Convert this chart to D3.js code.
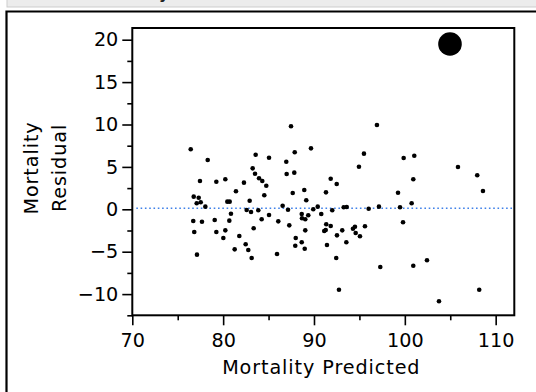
<!DOCTYPE html>
<html><head><meta charset="utf-8">
<script src="https://cdn.jsdelivr.net/npm/d3@7"></script>
<style>body{margin:0;background:#fff;} svg{display:block;font-family:"DejaVu Sans",sans-serif;}</style>
</head><body><svg id="c" width="536" height="392"></svg>
<script>
const predicted = [76.43,78.30,87.47,83.58,85.05,87.88,89.67,86.95,83.25,96.93,95.50,99.87,101.04,94.95,105.85,86.99,87.83,77.45,79.25,80.24,82.29,83.51,83.95,84.31,84.75,87.66,88.93,81.41,84.53,76.76,77.31,82.92,77.53,77.09,78.04,80.46,80.72,89.15,86.55,87.14,82.59,83.07,83.87,80.86,89.92,90.41,88.65,89.37,88.68,89.04,85.05,76.71,77.67,79.07,80.68,84.24,86.07,87.28,76.82,79.25,80.24,83.36,89.04,80.02,81.78,87.99,88.65,87.94,88.98,82.48,82.77,81.27,77.12,83.14,85.93,107.97,91.84,92.50,100.93,108.60,91.32,99.25,100.75,93.27,93.60,96.02,97.15,99.47,92.01,90.80,91.35,91.84,99.80,95.61,94.51,94.29,91.29,91.13,93.11,94.59,95.06,92.53,93.56,91.43,92.45,102.44,97.30,100.93,92.75,108.19,103.76];
const residual = [7.08,5.81,9.79,6.44,6.08,6.72,7.19,5.61,4.83,9.94,6.56,6.05,6.32,5.02,4.99,4.16,4.32,3.34,3.25,3.54,3.14,4.20,3.66,3.34,2.78,1.92,2.28,2.12,1.65,1.49,1.37,1.01,0.83,0.71,0.31,0.90,0.90,1.06,0.42,-0.05,-0.08,-0.32,-0.12,-0.52,0.00,0.31,-0.55,-0.71,-1.06,-1.18,-0.67,-1.38,-1.46,-1.26,-1.34,-1.18,-1.42,-1.89,-2.68,-2.68,-2.48,-2.24,-2.48,-3.38,-3.15,-3.38,-3.89,-4.29,-4.65,-4.13,-4.80,-4.72,-5.35,-5.74,-5.27,4.01,3.61,2.98,3.54,2.16,2.00,1.96,0.71,0.24,0.27,0.07,0.31,0.24,-0.12,-0.55,-1.77,-1.97,-1.53,-2.00,-2.05,-2.29,-2.44,-2.56,-2.48,-2.79,-3.18,-3.07,-3.89,-4.21,-5.74,-6.01,-6.80,-6.65,-9.48,-9.48,-10.85];
const outlierPredicted = [104.97];
const outlierResidual = [19.49];
const xMajorTicks = [70,80,90,100,110];
const xMinorTicks = [75,85,95,105];
const yMajorTicks = [-10,-5,0,5,10,15,20];
const yMinorTicks = [-12.5,-7.5,-2.5,2.5,7.5,12.5,17.5];
const titleText = "Residual by Predicted Plot";
const xLabel = "Mortality Predicted";
const yLabelLines = ["Mortality","Residual"];

const svg = d3.select("#c");
const L=132.3, R=514.3, T=28, B=315.3;
const x = d3.scaleLinear().domain([70,112.05]).range([L,R]);
const y = d3.scaleLinear().domain([-12.5,21.38]).range([B,T]);

// header band
svg.append("rect").attr("x",7).attr("y",-1).attr("width",540).attr("height",8)
  .attr("fill","#ececec").attr("stroke","#cdcdcd").attr("stroke-width",1);
const title = svg.append("text").attr("y",-1.5).attr("font-size",15).attr("font-weight","bold")
  .attr("fill","#222").text(titleText);
try{
  const idx = titleText.indexOf("y");
  const off = title.node().getSubStringLength(0, idx);
  title.attr("x", 159 - off);
}catch(e){ title.attr("x", 60); }
// outer frame
svg.append("path").attr("d","M6.5,400V11.5H540").attr("fill","none").attr("stroke","#000").attr("stroke-width",2.2);

// axes ticks
const gx = svg.append("g").attr("transform",`translate(0,${B})`);
gx.call(d3.axisBottom(x).tickValues(xMajorTicks).tickSize(10).tickPadding(8).tickFormat(d3.format("d")));
const gxm = svg.append("g").attr("transform",`translate(0,${B})`);
gxm.call(d3.axisBottom(x).tickValues(xMinorTicks).tickSize(5).tickFormat(""));
const gy = svg.append("g").attr("transform",`translate(${L},0)`);
gy.call(d3.axisLeft(y).tickValues(yMajorTicks).tickSize(10).tickPadding(4)
  .tickFormat(d => d < 0 ? "\u2212" + Math.abs(d) : d));
const gym = svg.append("g").attr("transform",`translate(${L},0)`);
gym.call(d3.axisLeft(y).tickValues(yMinorTicks).tickSize(5).tickFormat(""));
svg.selectAll(".domain").remove();
svg.selectAll(".tick line").attr("stroke","#000").attr("stroke-width",1.6);
svg.selectAll(".tick text").attr("font-family","DejaVu Sans").attr("font-size",19.2).attr("fill","#000");

// zero line
svg.append("line").attr("x1",L+4).attr("x2",R-2).attr("y1",y(0)-1).attr("y2",y(0)-1)
  .attr("stroke","#3f80e8").attr("stroke-width",1.6).attr("stroke-dasharray","1.6,2.7");

// points
svg.append("g").selectAll("circle").data(predicted.map((p,i)=>[p,residual[i]])).join("circle")
  .attr("cx",d=>x(d[0])).attr("cy",d=>y(d[1])).attr("r",2.3).attr("fill","#000");
svg.append("g").selectAll("circle").data(outlierPredicted.map((p,i)=>[p,outlierResidual[i]])).join("circle")
  .attr("cx",d=>x(d[0])).attr("cy",d=>y(d[1])).attr("r",11.8).attr("fill","#000");

// frame
svg.append("rect").attr("x",L).attr("y",T).attr("width",R-L).attr("height",B-T)
  .attr("fill","none").attr("stroke","#000").attr("stroke-width",2);

// labels
svg.append("text").attr("x",(L+R)/2-2).attr("y",374).attr("text-anchor","middle")
  .attr("font-size",19.2).attr("letter-spacing",0.9).text(xLabel);
const yl = svg.append("g").attr("transform","translate(0,168) rotate(-90)");
yl.append("text").attr("x",0).attr("y",38).attr("text-anchor","middle").attr("font-size",19.2).attr("letter-spacing",0.9).text(yLabelLines[0]);
yl.append("text").attr("x",0).attr("y",66).attr("text-anchor","middle").attr("font-size",19.2).attr("letter-spacing",0.9).text(yLabelLines[1]);
</script></body></html>
